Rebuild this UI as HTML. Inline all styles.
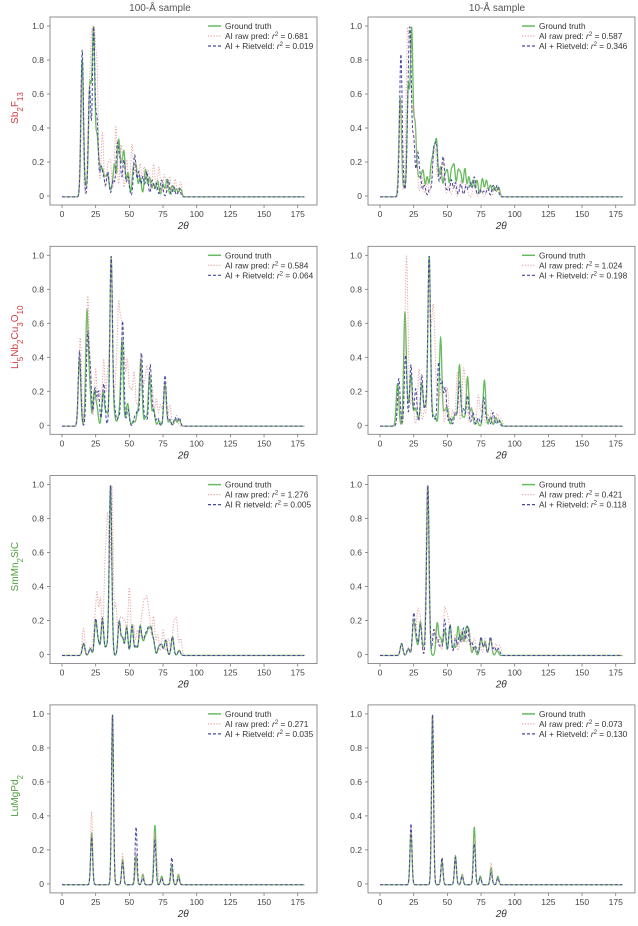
<!DOCTYPE html>
<html><head><meta charset="utf-8"><style>
body{margin:0;background:#fff;}
svg text{font-family:"Liberation Sans",sans-serif;}
</style></head><body>
<svg id="fig" width="638" height="921" viewBox="0 0 638 921" xmlns="http://www.w3.org/2000/svg">
<text x="160" y="11" font-size="10" fill="#555" text-anchor="middle">100-Å sample</text>
<text x="497" y="11" font-size="10" fill="#555" text-anchor="middle">10-Å sample</text>
</svg>
<script>
// ---- data: peak positions (2θ) and heights ----
const xTicks = [0,25,50,75,100,125,150,175];
const yTicks = [0,0.2,0.4,0.6,0.8,1.0];
const yTickLabels = ["0","0.2","0.4","0.6","0.8","1.0"];

const sb100GtPos = [15,17.5,20.5,22,23.5,26,28,30,32,34,37,39,42,44,46,49,53,55,58,62,65,68,71,75,78,82,85,88];
const sb100GtH   = [0.85,0.05,0.6,0.3,0.95,0.35,0.15,0.15,0.1,0.13,0.05,0.2,0.34,0.15,0.27,0.15,0.17,0.18,0.12,0.17,0.12,0.08,0.1,0.08,0.11,0.07,0.05,0.05];
const sb100PrPos = [14.5,20,22,24,26,30,34,36,40,44,48,52,55,58,61,64,68,72,76,80,84,88];
const sb100PrH   = [0.8,0.6,0.95,0.95,0.8,0.43,0.2,0.22,0.47,0.35,0.25,0.35,0.23,0.22,0.2,0.18,0.22,0.2,0.15,0.13,0.12,0.1];
const sb100RvPos = [15,20.5,23.5,26,29,31,34,38,41,43,46,49,54,57,60,63,67,70,74,79,83,87];
const sb100RvH   = [0.88,0.65,1.0,0.45,0.17,0.1,0.15,0.1,0.3,0.2,0.22,0.12,0.25,0.15,0.12,0.15,0.1,0.08,0.1,0.1,0.06,0.05];

const sb10GtPos = [15,18,21,23.5,26,28,30,32,35,38,40,42,45,48,50,53,55,58,60,63,66,69,72,76,79,82,85,88];
const sb10GtH   = [0.6,0.05,0.65,1.0,0.42,0.1,0.1,0.15,0.12,0.18,0.25,0.32,0.18,0.12,0.15,0.15,0.18,0.15,0.13,0.17,0.12,0.1,0.1,0.11,0.1,0.07,0.06,0.06];
const sb10PrPos = [15,19.5,20.5,22.5,25,27,31,35,39,41,44,47,51,55,60,64,70,75,80,85,88];
const sb10PrH   = [0.7,0.2,1.0,0.95,0.6,0.3,0.15,0.1,0.2,0.33,0.2,0.25,0.08,0.1,0.12,0.1,0.12,0.06,0.08,0.07,0.06];
const sb10RvPos = [15.5,17.5,21,22.5,25,28,30,33,37,40,42,45,47,50,53,56,60,64,67,70,74,77,80,84,87];
const sb10RvH   = [1.0,0.05,0.6,0.97,0.4,0.3,0.12,0.08,0.06,0.32,0.34,0.12,0.27,0.05,0.12,0.1,0.09,0.08,0.1,0.14,0.05,0.04,0.06,0.08,0.08];

const li100GtPos = [13,18.5,20.5,24,26,30.5,33,36.5,39,42,44.5,48,49,53,56,58.5,62,65,68,72,76.5,80,84,87];
const li100GtH   = [0.4,0.66,0.22,0.2,0.1,0.2,0.08,1.0,0.05,0.05,0.5,0.05,0.1,0.03,0.07,0.38,0.05,0.3,0.1,0.03,0.25,0.03,0.04,0.04];
const li100PrPos = [13.5,19,21,25,28,31,34,36.5,40,42,44,46,48.5,51,53.5,56,58.5,61,63,65,67,70,73,76,80,85];
const li100PrH   = [0.5,0.7,0.3,0.32,0.2,0.37,0.3,0.95,0.25,0.62,0.5,0.38,0.36,0.2,0.3,0.1,0.4,0.2,0.3,0.2,0.2,0.15,0.12,0.25,0.12,0.06];
const li100RvPos = [13,19,21,24.5,27,31,36.5,39,42,45,49,54,56,59,62,65.5,68,71,76.5,80,84,87];
const li100RvH   = [0.44,0.52,0.3,0.22,0.2,0.25,1.0,0.1,0.05,0.62,0.1,0.05,0.08,0.43,0.05,0.36,0.08,0.05,0.3,0.04,0.05,0.05];

const li10GtPos = [13,18.5,20.5,23,26,28,31,33.5,36.5,39,41,45,48,50,54,56,59,62,65,68,72,77.5,82,86,89];
const li10GtH   = [0.25,0.66,0.1,0.3,0.1,0.05,0.25,0.1,1.0,0.05,0.05,0.52,0.08,0.1,0.04,0.06,0.36,0.05,0.29,0.1,0.03,0.27,0.05,0.05,0.03];
const li10PrPos = [14,19.5,21,24,29,33,36.5,39,40.5,43,45.5,50,54,57.5,62,64,68,73,76,80,83,87,90];
const li10PrH   = [0.2,1.0,0.3,0.2,0.37,0.1,1.0,0.6,0.45,0.2,0.25,0.25,0.1,0.35,0.35,0.2,0.12,0.2,0.15,0.08,0.1,0.08,0.05];
const li10RvPos = [14,19,23,26.5,31,34,36.5,40,43.5,46,48.5,52,56,59,62,65,69,73,77,80,84,88];
const li10RvH   = [0.28,0.42,0.36,0.22,0.3,0.12,1.0,0.05,0.37,0.25,0.22,0.05,0.08,0.26,0.1,0.18,0.08,0.05,0.17,0.05,0.08,0.04];

const sm100GtPos = [16,21,25,27,30,33,36,42.5,45,48,52,55,58,60,62,64,66,68,72,74,77,82,87];
const sm100GtH   = [0.07,0.04,0.2,0.07,0.21,0.05,1.0,0.2,0.1,0.17,0.18,0.05,0.17,0.06,0.1,0.13,0.15,0.08,0.05,0.06,0.09,0.11,0.03];
const sm100PrPos = [16,21,24,26,28.5,32,34,37,40,43,45,47,50,53,56,59,61,63,65,68,71,75,79,83,85,88];
const sm100PrH   = [0.16,0.05,0.16,0.35,0.33,0.5,0.78,1.0,0.3,0.2,0.18,0.18,0.4,0.18,0.15,0.2,0.28,0.3,0.2,0.23,0.12,0.15,0.1,0.18,0.2,0.1];
const sm100RvPos = [16,21,25,27,30,33,36,42.5,45,48,52,55,58,60,62,64,66,68,72,74,77,82,87];
const sm100RvH   = [0.07,0.04,0.21,0.07,0.22,0.05,1.0,0.2,0.1,0.16,0.17,0.06,0.16,0.07,0.11,0.14,0.14,0.08,0.05,0.06,0.09,0.11,0.03];

const sm10GtPos = [16,21,25,27,30,33,35.5,42.5,45,48,52,55,58,61,64,66,70,75,78,82,87];
const sm10GtH   = [0.07,0.04,0.2,0.07,0.2,0.05,1.0,0.19,0.1,0.15,0.18,0.05,0.17,0.14,0.15,0.14,0.05,0.1,0.08,0.1,0.03];
const sm10PrPos = [16,21,25,28,30,35,38,41,44,48,50,52,56,60,63,66,70,74,78,82,86,89];
const sm10PrH   = [0.06,0.05,0.2,0.25,0.2,1.0,0.12,0.15,0.1,0.26,0.2,0.15,0.12,0.15,0.12,0.15,0.1,0.08,0.1,0.1,0.07,0.06];
const sm10RvPos = [16,21,25,27,30,35.5,40,42.5,45,48,52,56,59,62,65,68,71,75,78,82,85,88];
const sm10RvH   = [0.07,0.04,0.24,0.1,0.18,1.0,0.15,0.1,0.05,0.21,0.18,0.1,0.12,0.16,0.17,0.08,0.05,0.11,0.07,0.11,0.05,0.04];

const lu100GtPos = [22,37.5,45,55,60,69,74,81.5,86.5];
const lu100GtH   = [0.3,1.0,0.15,0.17,0.06,0.35,0.05,0.11,0.06];
const lu100PrPos = [22,37.5,45,54.5,60,68.5,70.5,74,81,86];
const lu100PrH   = [0.43,1.0,0.18,0.2,0.07,0.3,0.15,0.04,0.1,0.06];
const lu100RvPos = [22,37.5,45,55,60,69,74,81.5,86.5];
const lu100RvH   = [0.28,1.0,0.13,0.34,0.04,0.26,0.04,0.16,0.04];

const lu10GtPos = [23,39,46,56,61,70,74.5,82.5,87.5];
const lu10GtH   = [0.3,1.0,0.14,0.17,0.06,0.34,0.05,0.1,0.05];
const lu10PrPos = [23,39,46,56,61,70,74.5,82.5,87.5];
const lu10PrH   = [0.35,1.0,0.15,0.16,0.06,0.28,0.04,0.13,0.04];
const lu10RvPos = [23,39,46,56,61,70,74.5,82.5,87.5];
const lu10RvH   = [0.36,1.0,0.16,0.16,0.05,0.24,0.04,0.07,0.04];

const r2Raw  = ["0.681","0.587","0.584","1.024","1.276","0.421","0.271","0.073"];
const r2Riet = ["0.019","0.346","0.064","0.198","0.005","0.118","0.035","0.130"];

const NS = "http://www.w3.org/2000/svg";
const svg = document.getElementById('fig');
function mk(tag, attrs, parent){
  const e = document.createElementNS(NS, tag);
  for (const k in attrs) e.setAttribute(k, attrs[k]);
  (parent||svg).appendChild(e);
  return e;
}
function curve(pos, h, sigma){
  const ys = [];
  let mx = 0;
  for (let i=0;i<=1800;i++){
    const t = i/10; let v = 0;
    for (let j=0;j<pos.length;j++){ const d=(t-pos[j])/sigma; if (Math.abs(d)<6) v += h[j]*Math.exp(-0.5*d*d); }
    ys.push(v); if (v>mx) mx=v;
  }
  return ys.map(v=>v/(mx||1));
}
const panels = [
  {col:0,row:0,name:"sb2f13-100a",gt:[sb100GtPos,sb100GtH],pr:[sb100PrPos,sb100PrH],rv:[sb100RvPos,sb100RvH],sig:0.95},
  {col:1,row:0,name:"sb2f13-10a",gt:[sb10GtPos,sb10GtH],pr:[sb10PrPos,sb10PrH],rv:[sb10RvPos,sb10RvH],sig:0.95},
  {col:0,row:1,name:"li-100a",gt:[li100GtPos,li100GtH],pr:[li100PrPos,li100PrH],rv:[li100RvPos,li100RvH],sig:0.95},
  {col:1,row:1,name:"li-10a",gt:[li10GtPos,li10GtH],pr:[li10PrPos,li10PrH],rv:[li10RvPos,li10RvH],sig:0.95},
  {col:0,row:2,name:"smmn2sic-100a",gt:[sm100GtPos,sm100GtH],pr:[sm100PrPos,sm100PrH],rv:[sm100RvPos,sm100RvH],sig:0.95},
  {col:1,row:2,name:"smmn2sic-10a",gt:[sm10GtPos,sm10GtH],pr:[sm10PrPos,sm10PrH],rv:[sm10RvPos,sm10RvH],sig:0.95},
  {col:0,row:3,name:"lumgpd2-100a",gt:[lu100GtPos,lu100GtH],pr:[lu100PrPos,lu100PrH],rv:[lu100RvPos,lu100RvH],sig:0.75},
  {col:1,row:3,name:"lumgpd2-10a",gt:[lu10GtPos,lu10GtH],pr:[lu10PrPos,lu10PrH],rv:[lu10RvPos,lu10RvH],sig:0.75}
];
const rowLabels = [
  {html:'Sb<tspan baseline-shift="sub" font-size="8">2</tspan>F<tspan baseline-shift="sub" font-size="8">13</tspan>', color:"#d03a3f", name:"row-label-sb2f13"},
  {html:'Li<tspan baseline-shift="sub" font-size="8">5</tspan>Nb<tspan baseline-shift="sub" font-size="8">2</tspan>Cu<tspan baseline-shift="sub" font-size="8">3</tspan>O<tspan baseline-shift="sub" font-size="8">10</tspan>', color:"#d03a3f", name:"row-label-li5nb2cu3o10"},
  {html:'SmMn<tspan baseline-shift="sub" font-size="8">2</tspan>SiC', color:"#4f9e3e", name:"row-label-smmn2sic"},
  {html:'LuMgPd<tspan baseline-shift="sub" font-size="8">2</tspan>', color:"#4f9e3e", name:"row-label-lumgpd2"}
];
const XS = 1.347, YS = 170;
panels.forEach((p, idx)=>{
  const x0 = p.col ? 380 : 62;
  const y0 = 196 + p.row*229.3;
  const X = v => x0 + v*XS;
  const Y = v => y0 - v*YS;
  const g = mk('g', {});
  
  
  const fl = x0-12, fr = x0+255, ft = y0-179, fb = y0+9;
  const frame = mk('rect', {x:fl, y:ft, width:fr-fl, height:fb-ft, fill:'none', stroke:'#777', 'stroke-width':0.8}, g);
  
  
  xTicks.forEach(t=>{
    mk('line', {x1:X(t), x2:X(t), y1:fb, y2:fb+3, stroke:'#777','stroke-width':0.8}, g);
    const tx = mk('text', {x:X(t), y:fb+12, 'font-size':8.5, fill:'#444','text-anchor':'middle'}, g);
    tx.textContent = t;
    
    
  });
  yTicks.forEach((t,i)=>{
    mk('line', {x1:fl-3, x2:fl, y1:Y(t), y2:Y(t), stroke:'#777','stroke-width':0.8}, g);
    const tx = mk('text', {x:fl-6, y:Y(t)+3, 'font-size':8.5, fill:'#444','text-anchor':'end'}, g);
    tx.textContent = yTickLabels[i];
    
    
  });
  const xl = mk('text', {x:X(90), y:fb+24, 'font-size':10, 'font-style':'italic', fill:'#333','text-anchor':'middle','font-family':'"Liberation Serif",serif'}, g);
  xl.textContent = '2θ';
  
  
  if (p.col===0){
    const rl = rowLabels[p.row];
    const cy = y0 - 88;
    const t = mk('text', {x:0, y:0, 'font-size':10, fill:rl.color, 'text-anchor':'middle', transform:`translate(18,${cy}) rotate(-90)`}, g);
    t.innerHTML = rl.html;
    
    
  }
  const series = [
    {d:p.gt, color:'#66bb5e', w:1.3, dash:'', name:'ground-truth-line'},
    {d:p.pr, color:'#e7a3a3', w:1.0, dash:'1.2,1.6', name:'ai-raw-pred-line'},
    {d:p.rv, color:'#4548a3', w:1.0, dash:'3,2', name:'ai-rietveld-line'}
  ];
  series.forEach(s=>{
    const ys = curve(s.d[0], s.d[1], p.sig);
    let dstr = '';
    ys.forEach((v,i)=>{ dstr += (i?'L':'M') + X(i/10).toFixed(2) + ',' + Y(v - 0.005).toFixed(2); });
    const path = mk('path', {d:dstr, fill:'none', stroke:s.color, 'stroke-width':s.w, 'stroke-dasharray':s.dash}, g);
    
    
  });
  const lx = p.col ? 522 : 208;
  const ly = Y(1.0);
  const leg = mk('g', {}, g);
  
  
  const ripLabel = (idx===4) ? 'AI R rietveld: ' : 'AI + Rietveld: ';
  const entries = [
    {s:series[0], html:'Ground truth'},
    {s:series[1], html:'AI raw pred: <tspan font-style="italic">r</tspan><tspan baseline-shift="super" font-size="6">2</tspan> = ' + r2Raw[idx]},
    {s:series[2], html:ripLabel + '<tspan font-style="italic">r</tspan><tspan baseline-shift="super" font-size="6">2</tspan> = ' + r2Riet[idx]}
  ];
  entries.forEach((e,i)=>{
    const yy = ly + i*10;
    mk('line', {x1:lx, x2:lx+13, y1:yy, y2:yy, stroke:e.s.color, 'stroke-width':e.s.w+0.2, 'stroke-dasharray':e.s.dash}, leg);
    const t = mk('text', {x:lx+17, y:yy+3, 'font-size':8.3, fill:'#333'}, leg);
    t.innerHTML = e.html;
    
    
  });
});
</script>
</body></html>
